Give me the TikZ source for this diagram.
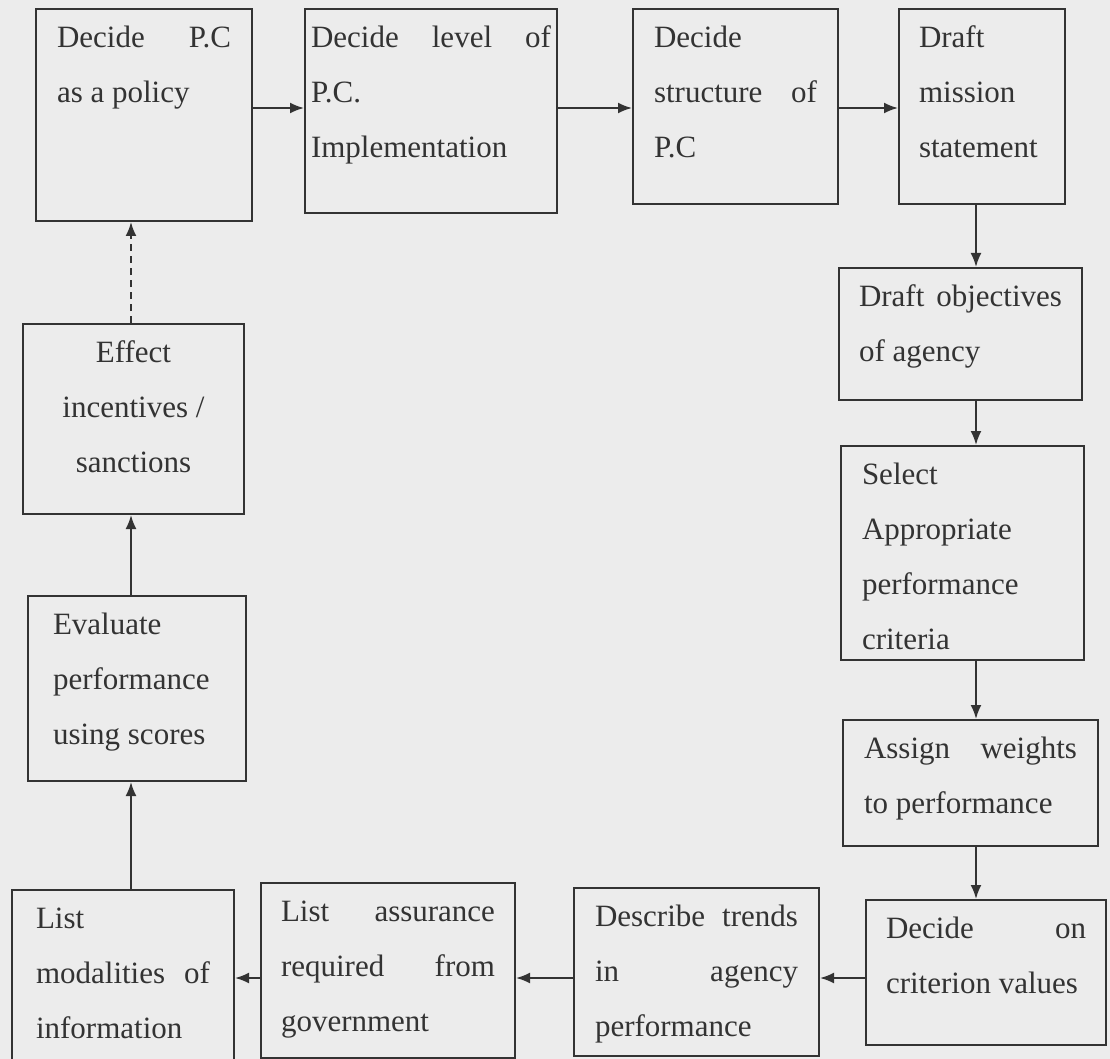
\documentclass[tikz,border=0pt]{standalone}
\usepackage{fontspec}
\setmainfont{Liberation Serif}
\usetikzlibrary{arrows.meta}

\definecolor{ink}{HTML}{333333}
\definecolor{paper}{HTML}{ECECEC}
\newcommand{\boxfont}{\fontsize{31}{55}\selectfont}
% text set from the top of a box of fixed height
\newcommand{\celltext}[3]{\parbox[t][#2][t]{#1}{\strut #3}}

\tikzset{
  stepbox/.style={draw=ink, line width=2pt, anchor=north west,
    inner ysep=0pt, inner xsep=#1, font=\boxfont, text=ink},
  stepbox/.default=21pt,
  flow/.style={->, draw=ink, line width=2pt},
}

\begin{document}
\begin{tikzpicture}[x=1pt, y=-1pt, >={Latex[length=14pt,width=11pt]}]
  \fill[paper] (0,0) rectangle (1110,1059);
  \useasboundingbox (0,0) rectangle (1110,1059);

  % top row
  \node(policy)[stepbox] at (35,8) {\celltext{174pt}{212pt}{Decide P.C\linebreak as a policy}};
  \node(level)[stepbox=6pt] at (304,8) {\celltext{240pt}{204pt}{Decide level of\linebreak P.C.\newline Implementation}};
  \node(structure)[stepbox] at (632,8) {\celltext{163pt}{195pt}{Decide\newline structure of\linebreak P.C}};
  \node(mission)[stepbox=20pt] at (898,8) {\celltext{126pt}{195pt}{Draft\newline mission\newline statement}};

  % right column
  \node(objectives)[stepbox=20pt] at (838,267) {\celltext{203pt}{132pt}{Draft objectives\linebreak of agency}};
  \node(criteria)[stepbox] at (840,445) {\celltext{201pt}{214pt}{Select\newline Appropriate\newline performance\newline criteria}};
  \node(weights)[stepbox] at (842,719) {\celltext{213pt}{126pt}{Assign weights\linebreak to performance}};
  \node(values)[stepbox=20pt] at (865,899) {\celltext{200pt}{145pt}{Decide on\linebreak criterion values}};

  % bottom row
  \node(trends)[stepbox] at (573,887) {\celltext{203pt}{168pt}{Describe trends\linebreak in agency\linebreak performance}};
  \node(assurance)[stepbox=20pt] at (260,882) {\celltext{214pt}{175pt}{List assurance\linebreak required from\linebreak government}};
  \node(modalities)[stepbox=24pt] at (11,889) {\celltext{174pt}{185pt}{List\newline modalities of\linebreak information}};

  % left column
  \node(evaluate)[stepbox=25pt] at (27,595) {\celltext{168pt}{185pt}{Evaluate\newline performance\newline using scores}};
  \node(sanctions)[stepbox=20pt] at (22,323) {\celltext{181pt}{190pt}{\centering Effect\\ incentives /\\ sanctions}};

  \coordinate(toprow) at (0,108);
  \coordinate(rightcol) at (976,0);
  \coordinate(botrow) at (0,978);
  \coordinate(leftcol) at (131,0);

  \draw[flow] (policy.east |- toprow) -- (level.west |- toprow);
  \draw[flow] (level.east |- toprow) -- (structure.west |- toprow);
  \draw[flow] (structure.east |- toprow) -- (mission.west |- toprow);
  \draw[flow] (mission.south -| rightcol) -- (objectives.north -| rightcol);
  \draw[flow] (objectives.south -| rightcol) -- (criteria.north -| rightcol);
  \draw[flow] (criteria.south -| rightcol) -- (weights.north -| rightcol);
  \draw[flow] (weights.south -| rightcol) -- (values.north -| rightcol);
  \draw[flow] (values.west |- botrow) -- (trends.east |- botrow);
  \draw[flow] (trends.west |- botrow) -- (assurance.east |- botrow);
  \draw[flow] (assurance.west |- botrow) -- (modalities.east |- botrow);
  \draw[flow] (modalities.north -| leftcol) -- (evaluate.south -| leftcol);
  \draw[flow] (evaluate.north -| leftcol) -- (sanctions.south -| leftcol);
  \draw[flow, dash pattern=on 7pt off 5pt] (sanctions.north -| leftcol) -- (policy.south -| leftcol);
\end{tikzpicture}
\end{document}
